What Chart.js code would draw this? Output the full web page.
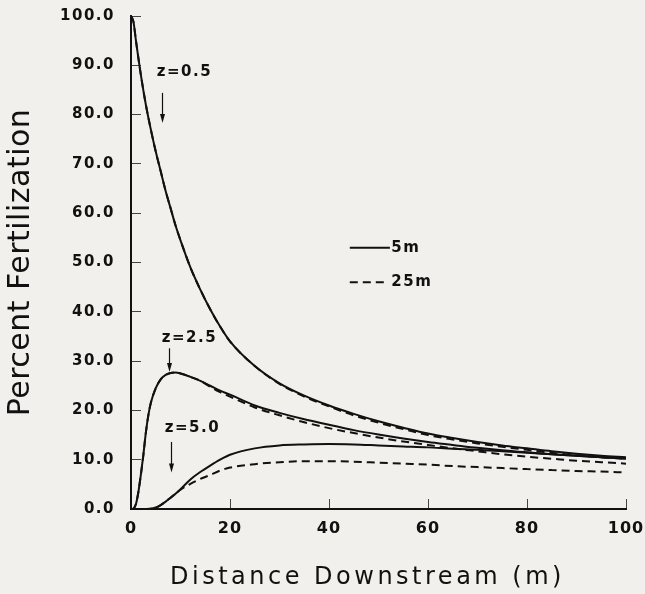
<!DOCTYPE html>
<html><head><meta charset="utf-8">
<script src="https://cdn.jsdelivr.net/npm/chart.js@4/dist/chart.umd.min.js"></script>
<style>html,body{margin:0;padding:0;background:#f2f0ec;overflow:hidden}canvas{display:block}</style>
</head><body>
<canvas id="c" width="645" height="594"></canvas>
<script>
// ---- data ----
const xTicks = [0, 20, 40, 60, 80, 100];
const yTicks = [0, 10, 20, 30, 40, 50, 60, 70, 80, 90, 100];

const xZ05 = [0,0.5,1,2,3,4,5,6,7,8,9,10,12,14,16,18,20,25,30,35,40,45,50,55,60,65,70,75,80,85,90,95,100];
const z05_5m  = [100,98.8,95,88,82,77,72.5,68.5,64.5,61,57.5,54.5,49,44.5,40.5,37,34,29,25.5,23,21,19.3,17.8,16.5,15.3,14.4,13.6,12.9,12.3,11.7,11.2,10.8,10.5];
const z05_25m = [100,98.8,95,88,82,77,72.5,68.5,64.5,61,57.5,54.5,49,44.5,40.5,37,34,29,25.4,22.8,20.8,19.0,17.5,16.2,15.0,14.1,13.3,12.6,12.0,11.4,10.9,10.5,10.2];

const xZ25 = [0,0.5,1,1.5,2,2.5,3,3.5,4,5,6,7,8,9,10,12,14,16,18,20,25,30,35,40,45,50,55,60,65,70,75,80,85,90,95,100];
const z25_5m  = [0,0.1,1.0,3.5,7,11,15.5,19,21.5,24.5,26.3,27.2,27.6,27.7,27.5,26.8,26,25,24,23.2,21,19.5,18.2,17.1,16.0,15.1,14.3,13.6,13.0,12.4,11.9,11.5,11.1,10.8,10.5,10.3];
const z25_25m = [0,0.1,1.0,3.5,7,11,15.5,19,21.5,24.5,26.3,27.2,27.6,27.7,27.5,26.8,26,24.8,23.7,22.8,20.6,19.0,17.6,16.4,15.4,14.5,13.7,13.0,12.3,11.7,11.1,10.6,10.2,9.8,9.5,9.2];

const xZ50 = [0,2,4,5,6,7,8,9,10,12,14,16,18,20,25,30,35,40,45,50,55,60,65,70,75,80,85,90,95,100];
const z50_5m  = [0,0,0.05,0.3,0.8,1.5,2.3,3.1,4.0,6.0,7.5,8.8,10.0,11.0,12.3,12.9,13.1,13.2,13.1,12.9,12.7,12.5,12.2,12.0,11.7,11.4,11.1,10.8,10.5,10.2];
const z50_25m = [0,0,0.05,0.3,0.8,1.5,2.3,3.1,3.9,5.1,6.1,6.9,7.8,8.4,9.1,9.5,9.7,9.7,9.6,9.4,9.2,9.0,8.7,8.5,8.3,8.1,7.9,7.7,7.6,7.4];

const curveLabels = [
  {text: 'z=0.5', x: 10.8, y: 88.7, arrowX: 6.3, arrowTop: 84.4, arrowTip: 78.3},
  {text: 'z=2.5', x: 11.8, y: 34.6, arrowX: 7.7, arrowTop: 32.6, arrowTip: 27.8},
  {text: 'z=5.0', x: 12.4, y: 16.4, arrowX: 8.1, arrowTop: 13.6, arrowTip: 7.4}
];
const legendItems = [
  {text: '5m', dash: []},
  {text: '25m', dash: [8, 5]}
];

// ---- chart ----
const INK = '#111111';
const pts = (xs, ys) => xs.map((x, i) => ({x, y: ys[i]}));
function ds(label, xs, ys, dashed) {
  return {label, data: pts(xs, ys), borderColor: INK, borderWidth: 2, pointRadius: 0,
    borderDash: dashed ? [8, 5] : [], cubicInterpolationMode: 'monotone', fill: false};
}

const spacing = {x: {labels: '1px', title: '3.5px', shift: -11}, y: {labels: '1.5px', title: '0.5px', shift: 0}};
const spacingPlugin = {
  id: 'spacing',
  beforeDraw(chart) {
    const ctx = chart.ctx;
    ctx.save(); ctx.fillStyle = '#f2f0ec'; ctx.fillRect(0, 0, chart.width, chart.height); ctx.restore();
    for (const id of ['x', 'y']) {
      const s = chart.scales[id];
      if (!s || s.__patched) continue;
      s.__patched = true;
      const dT = s.drawTitle, dL = s.drawLabels;
      s.drawTitle = function (...a) { const c = this.ctx; c.save(); c.letterSpacing = spacing[id].title; c.translate(spacing[id].shift, 0); dT.apply(this, a); c.restore(); };
      s.drawLabels = function (...a) { const c = this.ctx; c.save(); c.letterSpacing = spacing[id].labels; dL.apply(this, a); c.restore(); };
    }
  }
};

const annotPlugin = {
  id: 'annot',
  afterDatasetsDraw(chart) {
    const {ctx, scales: {x, y}} = chart;
    ctx.save();
    ctx.fillStyle = INK; ctx.strokeStyle = INK;
    ctx.font = 'bold 15px "DejaVu Sans"';
    ctx.letterSpacing = '1.5px';
    ctx.textAlign = 'center'; ctx.textBaseline = 'middle';
    for (const l of curveLabels) {
      ctx.fillText(l.text, x.getPixelForValue(l.x), y.getPixelForValue(l.y));
      const ax = Math.round(x.getPixelForValue(l.arrowX)) + 0.5;
      const y0 = y.getPixelForValue(l.arrowTop), y1 = y.getPixelForValue(l.arrowTip);
      ctx.lineWidth = 1.2; ctx.setLineDash([]);
      ctx.beginPath(); ctx.moveTo(ax, y0); ctx.lineTo(ax, y1 - 6); ctx.stroke();
      ctx.beginPath(); ctx.moveTo(ax - 2.5, y1 - 9); ctx.lineTo(ax + 2.5, y1 - 9); ctx.lineTo(ax, y1); ctx.closePath(); ctx.fill();
    }
    // legend
    const lx0 = x.getPixelForValue(44.2), lx1 = x.getPixelForValue(52.3), tx = x.getPixelForValue(52.6);
    const rows = [53.0, 46.0];
    ctx.textAlign = 'left'; ctx.font = 'bold 15px "DejaVu Sans"'; ctx.letterSpacing = '1.5px';
    legendItems.forEach((it, i) => {
      const yy = y.getPixelForValue(rows[i]);
      ctx.lineWidth = 2; ctx.setLineDash(it.dash);
      ctx.beginPath(); ctx.moveTo(lx0, yy); ctx.lineTo(it.dash.length ? lx1 - 5 : lx1, yy); ctx.stroke();
      ctx.fillText(it.text, tx, yy);
    });
    ctx.restore();
  }
};

new Chart(document.getElementById('c'), {
  type: 'line',
  data: {datasets: [
    ds('z=0.5, 5m', xZ05, z05_5m, false),
    ds('z=0.5, 25m', xZ05, z05_25m, true),
    ds('z=2.5, 5m', xZ25, z25_5m, false),
    ds('z=2.5, 25m', xZ25, z25_25m, true),
    ds('z=5.0, 5m', xZ50, z50_5m, false),
    ds('z=5.0, 25m', xZ50, z50_25m, true)
  ]},
  options: {
    responsive: false, animation: false, devicePixelRatio: 1,
    layout: {padding: 0},
    plugins: {legend: {display: false}, tooltip: {enabled: false}},
    scales: {
      x: {
        type: 'linear', min: 0, max: 100,
        afterBuildTicks: s => { s.ticks = xTicks.map(v => ({value: v})); },
        afterFit: s => { s.height = 85; s.paddingLeft = 0; s.paddingRight = 19; },
        grid: {display: true, drawOnChartArea: false, drawTicks: true, tickLength: -10, color: '#444', lineWidth: 1},
        border: {display: true, color: INK, width: 2},
        ticks: {color: INK, font: {family: 'DejaVu Sans', size: 16, weight: 'bold'}, padding: 20, maxRotation: 0, callback: v => String(v)},
        title: {display: true, text: 'Distance Downstream (m)', color: INK, font: {family: 'DejaVu Sans', size: 24}, padding: {top: 0, bottom: 2}}
      },
      y: {
        type: 'linear', min: 0, max: 100,
        afterBuildTicks: s => { s.ticks = yTicks.map(v => ({value: v})); },
        afterFit: s => { s.width = 131; s.paddingTop = 16; s.paddingBottom = 0; },
        grid: {display: true, drawOnChartArea: false, drawTicks: true, tickLength: -10, color: '#444', lineWidth: 1},
        border: {display: true, color: INK, width: 2},
        ticks: {color: INK, font: {family: 'DejaVu Sans', size: 15, weight: 'bold'}, padding: 26, callback: v => Number(v).toFixed(1)},
        title: {display: true, text: 'Percent Fertilization', color: INK, font: {family: 'DejaVu Sans', size: 30}, padding: {top: 3, bottom: 0}}
      }
    }
  },
  plugins: [spacingPlugin, annotPlugin]
});
</script>
</body></html>
